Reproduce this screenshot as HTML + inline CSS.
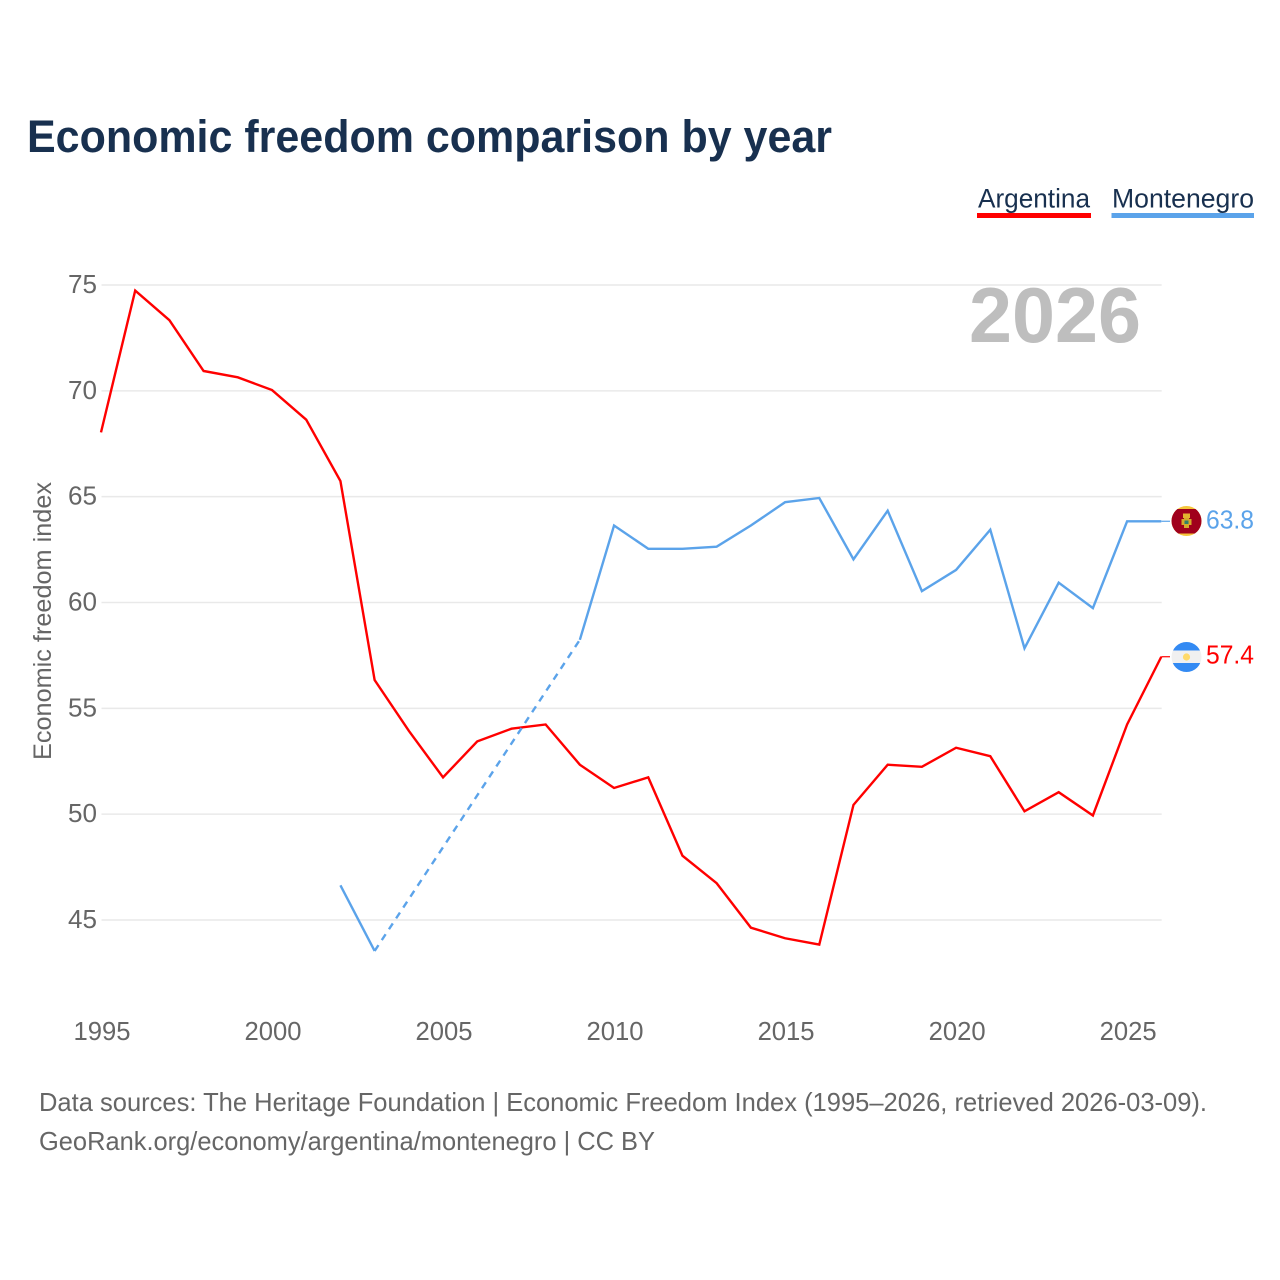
<!DOCTYPE html>
<html lang="en">
<head>
<meta charset="utf-8">
<title>Economic freedom comparison by year</title>
<style>
html,body{margin:0;padding:0;background:#fff;width:1280px;height:1280px;overflow:hidden}
svg{display:block;font-family:"Liberation Sans",sans-serif}
.tick{font-size:25.5px;fill:#666}
.foot{font-size:26px;fill:#666}
</style>
</head>
<body>
<svg id="chart" xmlns="http://www.w3.org/2000/svg" width="1280" height="1280" viewBox="0 0 1280 1280">
  <rect width="1280" height="1280" fill="#fff"/>
  <text x="27" y="152" font-size="45" font-weight="700" fill="#18304f" textLength="805" lengthAdjust="spacingAndGlyphs">Economic freedom comparison by year</text>
  <g>
    <text x="978" y="207.5" font-size="26.5" fill="#18304f" textLength="112" lengthAdjust="spacingAndGlyphs">Argentina</text>
    <rect x="977" y="213" width="114" height="5" fill="#ff0000"/>
  </g>
  <g>
    <text x="1112" y="207.5" font-size="26.5" fill="#18304f" textLength="142" lengthAdjust="spacingAndGlyphs">Montenegro</text>
    <rect x="1111.5" y="213" width="142.5" height="5" fill="#5ba3ea"/>
  </g>
  <g id="grid"></g>
  <text x="969" y="342" font-size="78" font-weight="700" fill="#bebebe" textLength="172" lengthAdjust="spacingAndGlyphs">2026</text>
  <g id="yticks"></g>
  <g id="xticks"></g>
  <text transform="translate(51,621) rotate(-90)" text-anchor="middle" font-size="25" fill="#666" textLength="278" lengthAdjust="spacingAndGlyphs">Economic freedom index</text>
  <g id="series"></g>
  <g id="ends"></g>
  <g>
    <clipPath id="clip-me"><circle cx="1186.5" cy="521" r="15"/></clipPath>
    <g clip-path="url(#clip-me)">
      <rect x="1171" y="505" width="31" height="32" fill="#f5c63c"/>
      <rect x="1171" y="509" width="31" height="24.5" fill="#a0001c"/>
      <rect x="1183" y="513.5" width="7" height="4.5" fill="#e3b52f"/>
      <rect x="1181.5" y="519" width="10" height="6" fill="#d4a92a"/>
      <rect x="1184" y="518" width="5" height="10" fill="#d4a92a"/>
      <rect x="1184.5" y="520.5" width="4" height="3.5" fill="#2f7f6a"/>
    </g>
  </g>
  <g>
    <clipPath id="clip-ar"><circle cx="1186.5" cy="657" r="15"/></clipPath>
    <g clip-path="url(#clip-ar)">
      <rect x="1171" y="642" width="31" height="31" fill="#f0f0f0"/>
      <rect x="1171" y="641" width="31" height="9.5" fill="#338af3"/>
      <rect x="1171" y="663" width="31" height="10" fill="#338af3"/>
      <circle cx="1186.5" cy="657" r="3.6" fill="#ffda6a"/>
    </g>
  </g>
  <text class="foot" x="39" y="1111" textLength="1168" lengthAdjust="spacingAndGlyphs">Data sources: The Heritage Foundation | Economic Freedom Index (1995–2026, retrieved 2026-03-09).</text>
  <text class="foot" x="39" y="1150" textLength="616" lengthAdjust="spacingAndGlyphs">GeoRank.org/economy/argentina/montenegro | CC BY</text>
</svg>
<script>
const years = [1995,1996,1997,1998,1999,2000,2001,2002,2003,2004,2005,2006,2007,2008,2009,2010,2011,2012,2013,2014,2015,2016,2017,2018,2019,2020,2021,2022,2023,2024,2025,2026];
const argentina = [68.0,74.7,73.3,70.9,70.6,70.0,68.6,65.7,56.3,53.9,51.7,53.4,54.0,54.2,52.3,51.2,51.7,48.0,46.7,44.6,44.1,43.8,50.4,52.3,52.2,53.1,52.7,50.1,51.0,49.9,54.2,57.4];
const montenegro = [null,null,null,null,null,null,null,46.6,43.5,null,null,null,null,null,58.2,63.6,62.5,62.5,62.6,63.6,64.7,64.9,62.0,64.3,60.5,61.5,63.4,57.8,60.9,59.7,63.8,63.8];
const yTickValues = [45,50,55,60,65,70,75];
const xTickValues = [1995,2000,2005,2010,2015,2020,2025];

const NS = 'http://www.w3.org/2000/svg';
const xScale = function (year) { return 101.5 + (year - 1995) * (1127.6 - 101.5) / 30; };
const yScale = function (value) { return 920 + (value - 45) * (285 - 920) / 30; };
const xMark = function (year) { return xScale(year) - 0.5; };
const yMark = function (value) { return yScale(value) - 0.8; };

function make(tag, parent, attrs) {
  const el = document.createElementNS(NS, tag);
  Object.keys(attrs).forEach(function (k) { el.setAttribute(k, attrs[k]); });
  parent.appendChild(el);
  return el;
}

const grid = document.getElementById('grid');
const yticks = document.getElementById('yticks');
yTickValues.forEach(function (v) {
  const line = make('line', grid, {x1: 101.5, x2: 1161.7, y1: yScale(v), y2: yScale(v), stroke: '#e9e9e9', 'stroke-width': 1.5});
  
  
  const label = make('text', yticks, {x: 97, y: yScale(v) + 8, 'text-anchor': 'end', class: 'tick', textLength: 29, lengthAdjust: 'spacingAndGlyphs'});
  
  
  label.textContent = v;
});

const xticks = document.getElementById('xticks');
xTickValues.forEach(function (y) {
  const label = make('text', xticks, {x: xScale(y) + 0.5, y: 1040, 'text-anchor': 'middle', class: 'tick', textLength: 57, lengthAdjust: 'spacingAndGlyphs'});
  
  
  label.textContent = y;
});

const seriesGroup = document.getElementById('series');
function drawSeries(name, values, color) {
  let run = [];
  let lastPoint = null;
  function flush() {
    if (run.length > 1) {
      const solid = make('polyline', seriesGroup, {points: run.join(' '), fill: 'none', stroke: color, 'stroke-width': 2.4, 'stroke-linejoin': 'miter'});
      
      
    }
    run = [];
  }
  values.forEach(function (v, i) {
    if (v === null) { flush(); return; }
    const pt = [xMark(years[i]), yMark(v)];
    if (run.length === 0 && lastPoint && lastPoint.i < i - 1) {
      const gap = make('line', seriesGroup, {x1: lastPoint.p[0], y1: lastPoint.p[1], x2: pt[0], y2: pt[1], stroke: color, 'stroke-width': 2.4, 'stroke-dasharray': '7 6'});
      
      
    }
    run.push(pt.join(','));
    lastPoint = {i: i, p: pt};
  });
  flush();
}
drawSeries('argentina', argentina, '#ff0000');
drawSeries('montenegro', montenegro, '#5ba3ea');

const ends = document.getElementById('ends');
function drawEnd(name, values, color) {
  const i = values.length - 1;
  const y = yMark(values[i]);
  const conn = make('line', ends, {x1: xMark(years[i]), x2: 1170, y1: y, y2: y, stroke: color, 'stroke-width': 1.2});
  
  
  const label = make('text', ends, {x: 1206, y: y + 7, 'font-size': 25.5, fill: color, textLength: 48, lengthAdjust: 'spacingAndGlyphs'});
  
  
  label.textContent = values[i].toFixed(1);
}
drawEnd('argentina', argentina, '#ff0000');
drawEnd('montenegro', montenegro, '#5ba3ea');
</script>
</body>
</html>
